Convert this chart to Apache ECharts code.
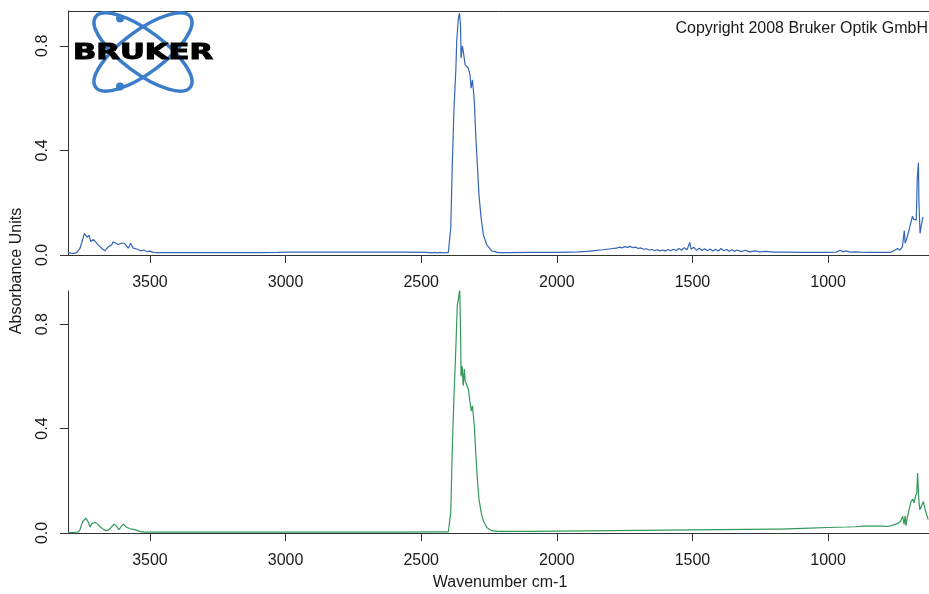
<!DOCTYPE html>
<html>
<head>
<meta charset="utf-8">
<script src="https://cdn.jsdelivr.net/npm/echarts@6/dist/echarts.min.js"></script>
<style>
html,body{margin:0;padding:0;background:#fff;}
#chart{width:929px;height:594px;}
</style>
</head>
<body>
<div id="chart"></div>
<script>
// ---- Data ----
const xTicks = [3500, 3000, 2500, 2000, 1500, 1000];
const yTicks = [0.0, 0.4, 0.8];

// Upper spectrum (blue)
const wnTop = [
  3802, 3790, 3782, 3770, 3764, 3758, 3752, 3746, 3742, 3737, 3731, 3725, 3718, 3709, 3702, 3696,
  3690, 3684, 3676, 3666, 3660, 3653, 3647, 3641, 3636, 3632, 3625, 3617, 3610, 3604, 3598, 3593,
  3588, 3580, 3575, 3571, 3566, 3561, 3554, 3546, 3540, 3534, 3528, 3522, 3516, 3512, 3505, 3500,
  3494, 3487, 3475, 3450, 3400, 3300, 3200, 3100, 3030, 3000, 2950, 2850, 2750, 2650, 2550, 2480,
  2460, 2450, 2440, 2430, 2420, 2410, 2400, 2397, 2391, 2385, 2379, 2372, 2369, 2363, 2359, 2355,
  2353, 2348, 2343, 2338, 2332, 2326, 2320, 2316, 2311, 2304, 2299, 2293, 2287, 2279, 2271, 2258,
  2240, 2215, 2180, 2100, 2050, 2000, 1960, 1920, 1890, 1860, 1830, 1800, 1780, 1770, 1760, 1750,
  1740, 1730, 1720, 1710, 1700, 1690, 1680, 1670, 1660, 1650, 1640, 1630, 1620, 1610, 1600, 1590,
  1580, 1570, 1560, 1550, 1540, 1530, 1520, 1510, 1505, 1495, 1485, 1475, 1465, 1455, 1445, 1435,
  1425, 1415, 1405, 1395, 1385, 1375, 1365, 1355, 1345, 1335, 1320, 1305, 1290, 1270, 1250, 1230,
  1200, 1150, 1100, 1050, 1000, 970, 955, 945, 935, 920, 900, 880, 850, 800, 769, 756,
  744, 735, 726, 719, 716, 711, 704, 697, 689, 685, 680, 675, 671, 667, 665, 661,
  656, 650
];
const absTop = [
  0.010, 0.007, 0.006, 0.009, 0.013, 0.025, 0.045, 0.066, 0.083, 0.089, 0.068, 0.076, 0.051, 0.060, 0.052, 0.045,
  0.038, 0.032, 0.024, 0.016, 0.022, 0.032, 0.035, 0.038, 0.050, 0.057, 0.045, 0.040, 0.038, 0.046, 0.051, 0.044,
  0.038, 0.026, 0.035, 0.045, 0.034, 0.026, 0.024, 0.022, 0.018, 0.016, 0.020, 0.019, 0.015, 0.013, 0.016, 0.015,
  0.012, 0.010, 0.009, 0.009, 0.009, 0.009, 0.009, 0.009, 0.010, 0.011, 0.011, 0.011, 0.011, 0.011, 0.011, 0.010,
  0.008, 0.010, 0.008, 0.010, 0.008, 0.009, 0.009, 0.012, 0.103, 0.360, 0.560, 0.714, 0.818, 0.905, 0.925, 0.880,
  0.753, 0.800, 0.765, 0.727, 0.720, 0.714, 0.689, 0.638, 0.670, 0.587, 0.460, 0.345, 0.230, 0.141, 0.078, 0.039,
  0.016, 0.009, 0.009, 0.010, 0.010, 0.010, 0.011, 0.012, 0.014, 0.017, 0.020, 0.024, 0.026, 0.030, 0.027, 0.032,
  0.029, 0.033, 0.028, 0.030, 0.025, 0.027, 0.022, 0.024, 0.019, 0.021, 0.017, 0.020, 0.016, 0.019, 0.015, 0.021,
  0.016, 0.022, 0.017, 0.025, 0.018, 0.028, 0.020, 0.048, 0.022, 0.030, 0.018, 0.026, 0.017, 0.024, 0.016, 0.023,
  0.015, 0.022, 0.015, 0.025, 0.016, 0.021, 0.014, 0.020, 0.014, 0.019, 0.013, 0.018, 0.012, 0.016, 0.012, 0.014,
  0.011, 0.011, 0.010, 0.010, 0.010, 0.011, 0.018, 0.012, 0.016, 0.011, 0.012, 0.011, 0.010, 0.010, 0.010, 0.017,
  0.025, 0.019, 0.032, 0.093, 0.045, 0.060, 0.085, 0.115, 0.149, 0.136, 0.140, 0.134, 0.300, 0.353, 0.197, 0.083,
  0.115, 0.146
];

// Lower spectrum (green)
const wnBottom = [
  3802, 3780, 3765, 3758, 3752, 3747, 3743, 3736, 3731, 3727, 3721, 3717, 3714, 3708, 3702, 3693,
  3684, 3673, 3662, 3656, 3650, 3641, 3632, 3627, 3623, 3614, 3606, 3598, 3592, 3586, 3573, 3555,
  3545, 3536, 3518, 3450, 3300, 3000, 2800, 2600, 2450, 2400, 2397, 2391, 2385, 2379, 2372, 2367,
  2363, 2358, 2355, 2353, 2349, 2345, 2341, 2338, 2332, 2326, 2320, 2315, 2311, 2304, 2299, 2293,
  2287, 2279, 2271, 2258, 2240, 2215, 2180, 2100, 2000, 1800, 1600, 1400, 1200, 1177, 1066, 1000,
  931, 900, 869, 840, 800, 783, 770, 759, 750, 741, 733, 725, 720, 716, 713, 708,
  704, 699, 694, 688, 683, 678, 673, 670, 666, 662, 656, 649, 642, 631
];
const absBottom = [
  0.002, 0.002, 0.004, 0.012, 0.032, 0.045, 0.051, 0.057, 0.050, 0.041, 0.023, 0.030, 0.036, 0.040, 0.041, 0.034,
  0.025, 0.015, 0.009, 0.010, 0.013, 0.024, 0.034, 0.030, 0.025, 0.013, 0.024, 0.034, 0.028, 0.022, 0.016, 0.013,
  0.009, 0.005, 0.003, 0.003, 0.003, 0.003, 0.003, 0.003, 0.004, 0.004, 0.008, 0.079, 0.334, 0.526, 0.717, 0.870,
  0.896, 0.934, 0.780, 0.600, 0.640, 0.564, 0.628, 0.583, 0.576, 0.551, 0.500, 0.468, 0.487, 0.410, 0.309, 0.207,
  0.130, 0.079, 0.047, 0.021, 0.009, 0.006, 0.006, 0.006, 0.007, 0.009, 0.011, 0.013, 0.015, 0.015, 0.019, 0.021,
  0.023, 0.024, 0.026, 0.026, 0.026, 0.025, 0.027, 0.031, 0.034, 0.038, 0.045, 0.064, 0.033, 0.066, 0.028, 0.060,
  0.077, 0.100, 0.121, 0.130, 0.115, 0.140, 0.153, 0.230, 0.134, 0.089, 0.102, 0.121, 0.089, 0.051
];

// ---- Chart ----
const FONT = 'Liberation Sans, Arial, sans-serif';
const AX = '#333';
const TXT = '#1a1a1a';
const topPairs = wnTop.map((w, i) => [w, absTop[i]]);
const botPairs = wnBottom.map((w, i) => [w, absBottom[i]]);

function xAxisFor(idx, margin) {
  return {
    type: 'value', gridIndex: idx, min: 628, max: 3802, inverse: true,
    axisLine: { show: true, onZero: false, lineStyle: { color: AX, width: 1 } },
    axisTick: { show: true, customValues: xTicks, length: 8, lineStyle: { color: AX, width: 1 } },
    axisLabel: { customValues: xTicks, fontSize: 16, fontFamily: FONT, color: TXT, margin: margin,
      formatter: v => String(Math.round(v)) },
    splitLine: { show: false }
  };
}
function yAxisFor(idx, max) {
  return {
    type: 'value', gridIndex: idx, min: 0, max: max,
    axisLine: { show: true, onZero: false, lineStyle: { color: AX, width: 1 } },
    axisTick: { show: true, customValues: yTicks, length: 8, lineStyle: { color: AX, width: 1 } },
    axisLabel: { customValues: yTicks, rotate: 90, fontSize: 16, fontFamily: FONT, color: TXT, margin: 17,
      formatter: v => v.toFixed(1) },
    splitLine: { show: false }
  };
}

const LOGO = '#3b7dc9';
const chart = echarts.init(document.getElementById('chart'), null, { renderer: 'canvas' });
chart.setOption({
  animation: false,
  backgroundColor: '#fff',
  grid: [
    { left: 68, top: 11, right: 0, height: 244 },
    { left: 68, top: 291, right: 0, height: 242 }
  ],
  xAxis: [xAxisFor(0, 20), xAxisFor(1, 20)],
  yAxis: [yAxisFor(0, 0.933), yAxisFor(1, 0.927)],
  series: [
    { type: 'line', xAxisIndex: 0, yAxisIndex: 0, data: topPairs, symbol: 'none',
      lineStyle: { color: '#3466b6', width: 1.2 } },
    { type: 'line', xAxisIndex: 1, yAxisIndex: 1, data: botPairs, symbol: 'none',
      lineStyle: { color: '#34985a', width: 1.2 } }
  ],
  graphic: [
    { type: 'line', shape: { x1: 68, y1: 11.5, x2: 929, y2: 11.5 }, style: { stroke: AX, lineWidth: 1 } },
    { type: 'line', shape: { x1: 61, y1: 255.5, x2: 68, y2: 255.5 }, style: { stroke: AX, lineWidth: 1 } },
    { type: 'line', shape: { x1: 61, y1: 533.5, x2: 68, y2: 533.5 }, style: { stroke: AX, lineWidth: 1 } },
    // logo
    { type: 'ellipse', x: 143, y: 52, rotation: 0.64, shape: { cx: 0, cy: 0, rx: 59, ry: 21 },
      style: { fill: 'none', stroke: LOGO, lineWidth: 3.5 } },
    { type: 'ellipse', x: 143, y: 52, rotation: -0.64, shape: { cx: 0, cy: 0, rx: 59, ry: 21 },
      style: { fill: 'none', stroke: LOGO, lineWidth: 3.5 } },
    { type: 'circle', shape: { cx: 120, cy: 18.5, r: 4 }, style: { fill: LOGO } },
    { type: 'circle', shape: { cx: 120, cy: 86.5, r: 4 }, style: { fill: LOGO } },
    { type: 'text', x: 143, y: 54, scaleX: 1.46,
      style: { text: 'BRUKER', fontFamily: 'DejaVu Sans', fontWeight: 'bold', fontSize: 21,
        fill: '#000', stroke: '#000', lineWidth: 1, textAlign: 'center', textVerticalAlign: 'middle' } },
    { type: 'text', x: 928, y: 29,
      style: { text: 'Copyright 2008 Bruker Optik GmbH', fontFamily: FONT, fontSize: 16, fill: TXT,
        textAlign: 'right', textVerticalAlign: 'middle' } },
    { type: 'text', x: 500, y: 583,
      style: { text: 'Wavenumber cm-1', fontFamily: FONT, fontSize: 16, fill: TXT,
        textAlign: 'center', textVerticalAlign: 'middle' } },
    { type: 'text', x: 17, y: 271, rotation: Math.PI / 2,
      style: { text: 'Absorbance Units', fontFamily: FONT, fontSize: 16, fill: TXT,
        textAlign: 'center', textVerticalAlign: 'middle' } }
  ]
});
</script>
</body>
</html>
